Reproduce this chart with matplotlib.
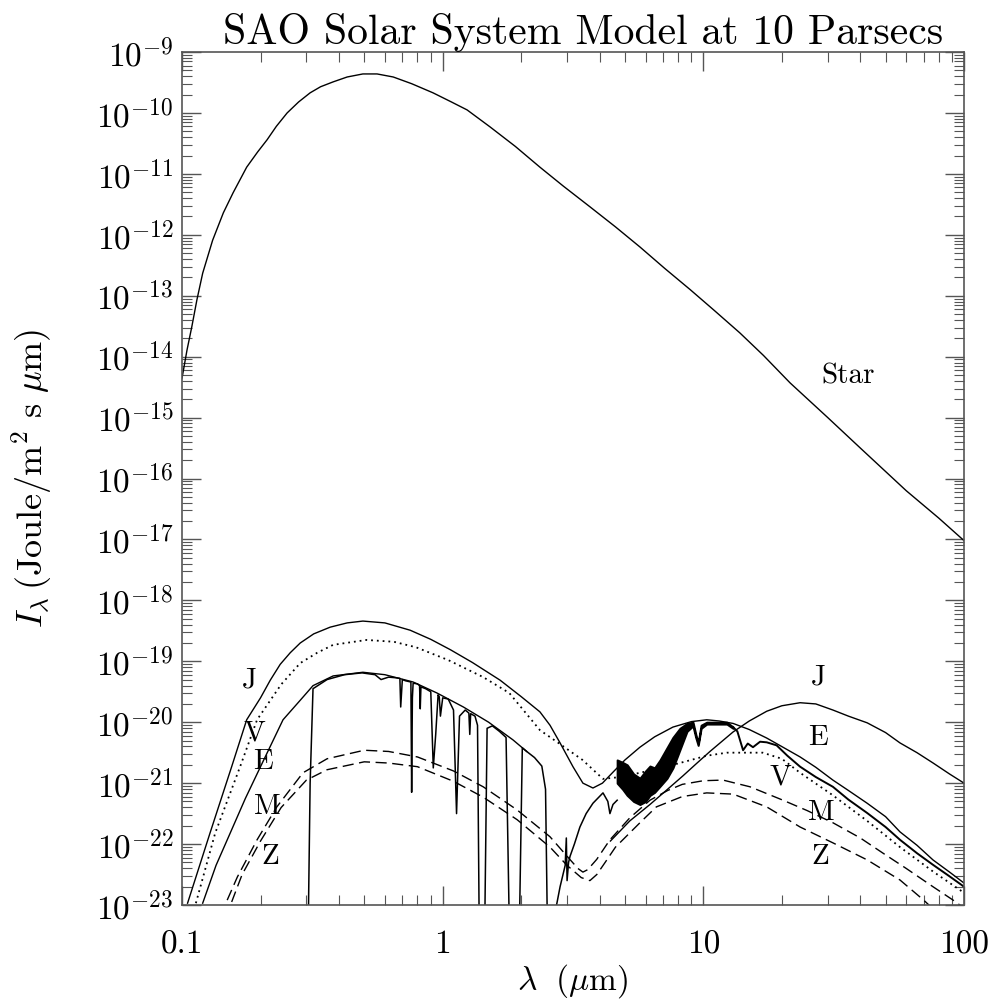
import matplotlib
matplotlib.use('Agg')
import matplotlib.pyplot as plt
import matplotlib.ticker as ticker
import numpy as np

plt.rcParams['font.family'] = 'serif'
plt.rcParams['font.serif'] = ['cmr10', 'DejaVu Serif']
plt.rcParams['mathtext.fontset'] = 'cm'
plt.rcParams['axes.unicode_minus'] = False

# ── Values: wavelength (um) and log10 of I_lambda ──

# Sun seen from 10 pc
star_x = [0.1, 0.1045, 0.109, 0.114, 0.12, 0.131, 0.144, 0.157, 0.177, 0.195, 0.212,
          0.23, 0.253, 0.28, 0.31, 0.34, 0.38, 0.43, 0.494, 0.56, 0.646, 0.76, 0.918,
          1.08, 1.24, 1.52, 1.9, 2.36, 2.9, 3.67, 4.6, 5.71, 7.1, 8.9, 11, 13.8, 17,
          21.5, 30, 40, 60, 80, 100]
star_log = [-14.35, -13.89, -13.51, -13.07, -12.63, -12.09, -11.64, -11.31, -10.89,
            -10.64, -10.44, -10.22, -10.0, -9.82, -9.67, -9.57, -9.49, -9.41, -9.36,
            -9.36, -9.41, -9.52, -9.67, -9.82, -9.95, -10.23, -10.55, -10.89, -11.2,
            -11.54, -11.87, -12.2, -12.55, -12.9, -13.24, -13.61, -13.98, -14.43,
            -15.0, -15.5, -16.2, -16.65, -17.02]

# top solid curve (J reflected, then the 10 um hump)
j_x = [0.105, 0.128, 0.155, 0.177, 0.2, 0.218, 0.238, 0.26, 0.284, 0.32, 0.37, 0.43,
       0.494, 0.6, 0.75, 0.9, 1.07, 1.3, 1.66, 2.0, 2.36, 2.58, 2.82, 3.16, 3.45,
       3.77, 4.1, 4.5, 5.0, 5.71, 6.5, 7.64, 9.0, 10.3, 11.5, 13.0, 15, 17.5, 20,
       23.5, 27, 31.4, 36, 42.5, 50, 56.8, 66, 76, 88, 100]
j_log = [-22.97, -21.82, -20.73, -19.96, -19.6, -19.31, -19.05, -18.86, -18.70, -18.55,
         -18.44, -18.37, -18.34, -18.37, -18.49, -18.64, -18.81, -19.02, -19.31, -19.58,
         -19.83, -20.05, -20.34, -20.73, -21.0, -21.08, -21.0, -20.82, -20.62, -20.41,
         -20.24, -20.08, -19.99, -19.96, -19.98, -20.02, -20.12, -20.26, -20.4, -20.57,
         -20.74, -20.95, -21.12, -21.33, -21.55, -21.8, -22.02, -22.26, -22.46, -22.64]

# Jupiter thermal hump
jt_x = [4.4, 5.22, 6.24, 7.2, 8.35, 9.4, 10.6, 13.0, 15, 17.5, 20, 23.5, 27, 31.4,
        36, 42.5, 50, 56.8, 66, 76.1, 88, 100]
jt_log = [-21.95, -21.62, -21.35, -21.12, -20.88, -20.68, -20.48, -20.16, -19.98, -19.82,
          -19.73, -19.68, -19.7, -19.80, -19.9, -20.01, -20.17, -20.34, -20.5, -20.67,
          -20.85, -21.0]

# Venus (dotted)
v_x = [0.113, 0.134, 0.167, 0.194, 0.24, 0.284, 0.33, 0.38, 0.51, 0.65, 0.79, 1.05,
       1.43, 1.8, 2.36, 2.8, 3.44, 4.12, 4.8, 5.71, 6.6, 7.64, 10.3, 12.3, 16.9, 20,
       23.5, 31.4, 42.5, 56.8, 76, 100]
v_log = [-22.97, -21.82, -20.73, -19.96, -19.38, -19.03, -18.86, -18.73, -18.65, -18.68,
         -18.77, -18.98, -19.26, -19.52, -20.13, -20.35, -20.62, -20.93, -20.9, -20.83,
         -20.77, -20.7, -20.55, -20.5, -20.5, -20.6, -20.83, -21.2, -21.62, -22.05,
         -22.45, -22.8]

# Earth smooth reflected continuum
e_x = [0.12, 0.135, 0.153, 0.175, 0.2, 0.244, 0.284, 0.318, 0.38, 0.494, 0.6, 0.77,
       0.95, 1.2, 1.5, 1.86, 2.1]
e_log = [-22.97, -22.35, -21.82, -21.25, -20.73, -19.96, -19.64, -19.40, -19.24, -19.18,
         -19.22, -19.34, -19.52, -19.75, -20.0, -20.29, -20.48]

# Earth detailed spectrum (absorption bands, thermal emission)
es_x = [0.305, 0.31, 0.318, 0.36, 0.42, 0.49, 0.55, 0.58, 0.62, 0.66, 0.685, 0.69, 0.70,
        0.72, 0.755, 0.76, 0.765, 0.77, 0.80, 0.815, 0.82, 0.825, 0.86, 0.90, 0.92,
        0.94, 0.96, 0.97, 0.98, 1.0, 1.05, 1.10, 1.13, 1.16, 1.22, 1.26, 1.27, 1.28,
        1.33, 1.36, 1.38, 1.45, 1.48, 1.55, 1.65, 1.75, 1.80, 1.97, 2.02, 2.1, 2.25,
        2.4, 2.48, 2.52, 2.65, 2.82, 2.95, 2.98, 3.0, 3.04, 3.08, 3.2, 3.36, 3.55,
        3.77, 4.12, 4.3, 4.38, 4.5, 4.67]
es_log = [-23.3, -21.0, -19.45, -19.30, -19.22, -19.19, -19.22, -19.30, -19.26, -19.27,
          -19.28, -19.75, -19.30, -19.32, -19.34, -21.15, -19.6, -19.36, -19.37, -19.4,
          -19.78, -19.42, -19.45, -19.5, -20.75, -20.2, -19.55, -19.58, -19.9, -19.6,
          -19.62, -19.8, -21.5, -19.9, -19.8, -19.85, -20.2, -19.86, -19.9, -20.05,
          -23.3, -23.3, -20.1, -20.06, -20.15, -20.25, -23.3, -23.3, -20.42, -20.48,
          -20.58, -20.72, -21.1, -23.3, -23.3, -22.7, -22.35, -21.9, -22.6, -22.3, -22.2,
          -22.0, -21.72, -21.5, -21.33, -21.16, -21.3, -21.5, -21.35, -21.28]

# the black noisy band of the Earth spectrum, 4.7-13 um
band_x = [4.67, 4.9, 5.1, 5.4, 5.71, 6.0, 6.24, 6.5, 6.82, 7.25, 7.64, 8.13, 8.65, 9.12,
          9.35, 9.55, 9.8, 10.3, 12.3, 13.0]
band_top = [-20.62, -20.66, -20.7, -20.85, -20.92, -20.8, -20.72, -20.75, -20.62, -20.42,
            -20.25, -20.1, -20.02, -20.0, -20.2, -20.34, -20.05, -20.0, -20.0, -20.08]
band_bot = [-21.0, -21.1, -21.2, -21.3, -21.35, -21.3, -21.2, -21.15, -21.05, -20.92,
            -20.75, -20.45, -20.15, -20.06, -20.25, -20.38, -20.1, -20.03, -20.03, -20.1]

# Earth thermal tail beyond 13 um
et_x = [13.0, 13.5, 14.2, 14.8, 15.5, 16.5, 17.5, 19.1, 21, 23.5, 27, 31.4, 36, 42.5,
        50, 56.8, 66, 76, 88, 100]
et_log = [-20.08, -20.15, -20.46, -20.35, -20.41, -20.32, -20.33, -20.38, -20.55, -20.73,
          -20.9, -21.06, -21.27, -21.49, -21.72, -21.93, -22.15, -22.34, -22.53, -22.7]

# Mars (dashed)
m_x = [0.149, 0.163, 0.194, 0.231, 0.291, 0.36, 0.5, 0.62, 0.8, 1.1, 1.43, 1.93, 2.58,
       3.0, 3.3, 3.45, 3.6, 3.9, 4.38, 5.22, 6.24, 7.3, 8.3, 10.0, 11.9, 15.1, 20.2,
       25, 31.4, 40, 48.9, 60, 76, 90.8, 100]
m_log = [-22.92, -22.54, -21.93, -21.39, -20.83, -20.6, -20.46, -20.48, -20.57, -20.8,
         -21.06, -21.44, -21.88, -22.2, -22.4, -22.46, -22.42, -22.25, -21.93, -21.57,
         -21.28, -21.12, -21.02, -20.96, -20.95, -21.06, -21.28, -21.45, -21.65, -21.9,
         -22.15, -22.4, -22.7, -22.92, -23.05]

# Mercury (dashed)
z_x = [0.155, 0.17, 0.2, 0.24, 0.3, 0.36, 0.5, 0.62, 0.8, 1.1, 1.43, 1.93, 2.58, 3.0,
       3.4, 3.67, 3.9, 4.2, 4.6, 5.71, 6.6, 8.3, 10.3, 13, 17.5, 23.5, 31.4, 42.5,
       56.8, 70, 80]
z_log = [-22.95, -22.5, -21.95, -21.4, -20.95, -20.78, -20.65, -20.67, -20.73, -20.97,
         -21.23, -21.6, -22.05, -22.35, -22.55, -22.6, -22.5, -22.3, -22.05, -21.65,
         -21.39, -21.22, -21.16, -21.18, -21.39, -21.72, -21.98, -22.26, -22.59, -22.92,
         -23.15]

# curve labels: text, wavelength, log10 I
labels = [('Star', 35.9, -14.32),
          ('J', 0.182, -19.31), ('V', 0.19, -20.18), ('E', 0.205, -20.65),
          ('M', 0.212, -21.39), ('Z', 0.218, -22.21),
          ('J', 27.5, -19.26), ('E', 27.5, -20.26), ('V', 19.7, -20.90),
          ('M', 28.4, -21.49), ('Z', 28.0, -22.21)]


def p(v):
    return 10.0 ** np.array(v)


fig = plt.figure(figsize=(9.91, 10.06), dpi=100)
ax = fig.add_axes([0.1837, 0.1004, 0.7891, 0.8479])

lw = 1.0
ax.plot(star_x, p(star_log), color='k', lw=lw)
ax.plot(j_x, p(j_log), color='k', lw=lw)
ax.plot(jt_x, p(jt_log), color='k', lw=lw)
ax.plot(v_x, p(v_log), color='k', lw=1.3, linestyle=(0, (1, 2.2)))
ax.plot(e_x, p(e_log), color='k', lw=lw)
ax.plot(es_x, p(es_log), color='k', lw=1.1)
ax.fill_between(band_x, p(band_bot), p(band_top), color='k', lw=1.5, edgecolor='k')
ax.plot(et_x, p(et_log), color='k', lw=1.4)
ax.plot(m_x, p(m_log), color='k', lw=lw, linestyle=(0, (8, 4)))
ax.plot(z_x, p(z_log), color='k', lw=lw, linestyle=(0, (8, 4)))

for txt, lx, ly in labels:
    ax.text(lx, 10 ** ly, txt, fontsize=21, ha='center', va='center')

ax.set_xscale('log')
ax.set_yscale('log')
ax.set_xlim(0.1, 100)
ax.set_ylim(1e-23, 1e-9)

ax.xaxis.set_major_locator(ticker.LogLocator(base=10, numticks=10))
ax.xaxis.set_minor_locator(ticker.LogLocator(base=10, subs=np.arange(2, 10), numticks=20))
ax.yaxis.set_major_locator(ticker.LogLocator(base=10, numticks=20))
ax.yaxis.set_minor_locator(ticker.LogLocator(base=10, subs=np.arange(2, 10), numticks=40))
ax.xaxis.set_major_formatter(ticker.FuncFormatter(lambda v, pos: f'{v:g}'))
ax.xaxis.set_minor_formatter(ticker.NullFormatter())
ax.yaxis.set_major_formatter(ticker.FuncFormatter(
    lambda v, pos: r'$10^{%d}$' % int(round(np.log10(v)))))
ax.yaxis.set_minor_formatter(ticker.NullFormatter())

ax.tick_params(which='both', direction='in', top=True, right=True, color='#555555')
ax.tick_params(which='major', length=14, width=1.0, labelsize=24, pad=6)
ax.tick_params(axis='x', which='major', pad=18)
ax.tick_params(which='minor', length=7, width=0.8)
for s in ax.spines.values():
    s.set_color('#555555')
    s.set_linewidth(1.2)

ax.set_title('SAO Solar System Model at 10 Parsecs', fontsize=30, pad=3, x=0.513)
ax.set_xlabel(r'$\lambda\ \ (\mu\mathrm{m})$', fontsize=24, labelpad=2)
ax.set_ylabel(r'$I_\lambda\,(\mathrm{Joule/m^2\ s\ }\mu\mathrm{m})$', fontsize=26, labelpad=30)

fig.savefig('out.png', dpi=100)
